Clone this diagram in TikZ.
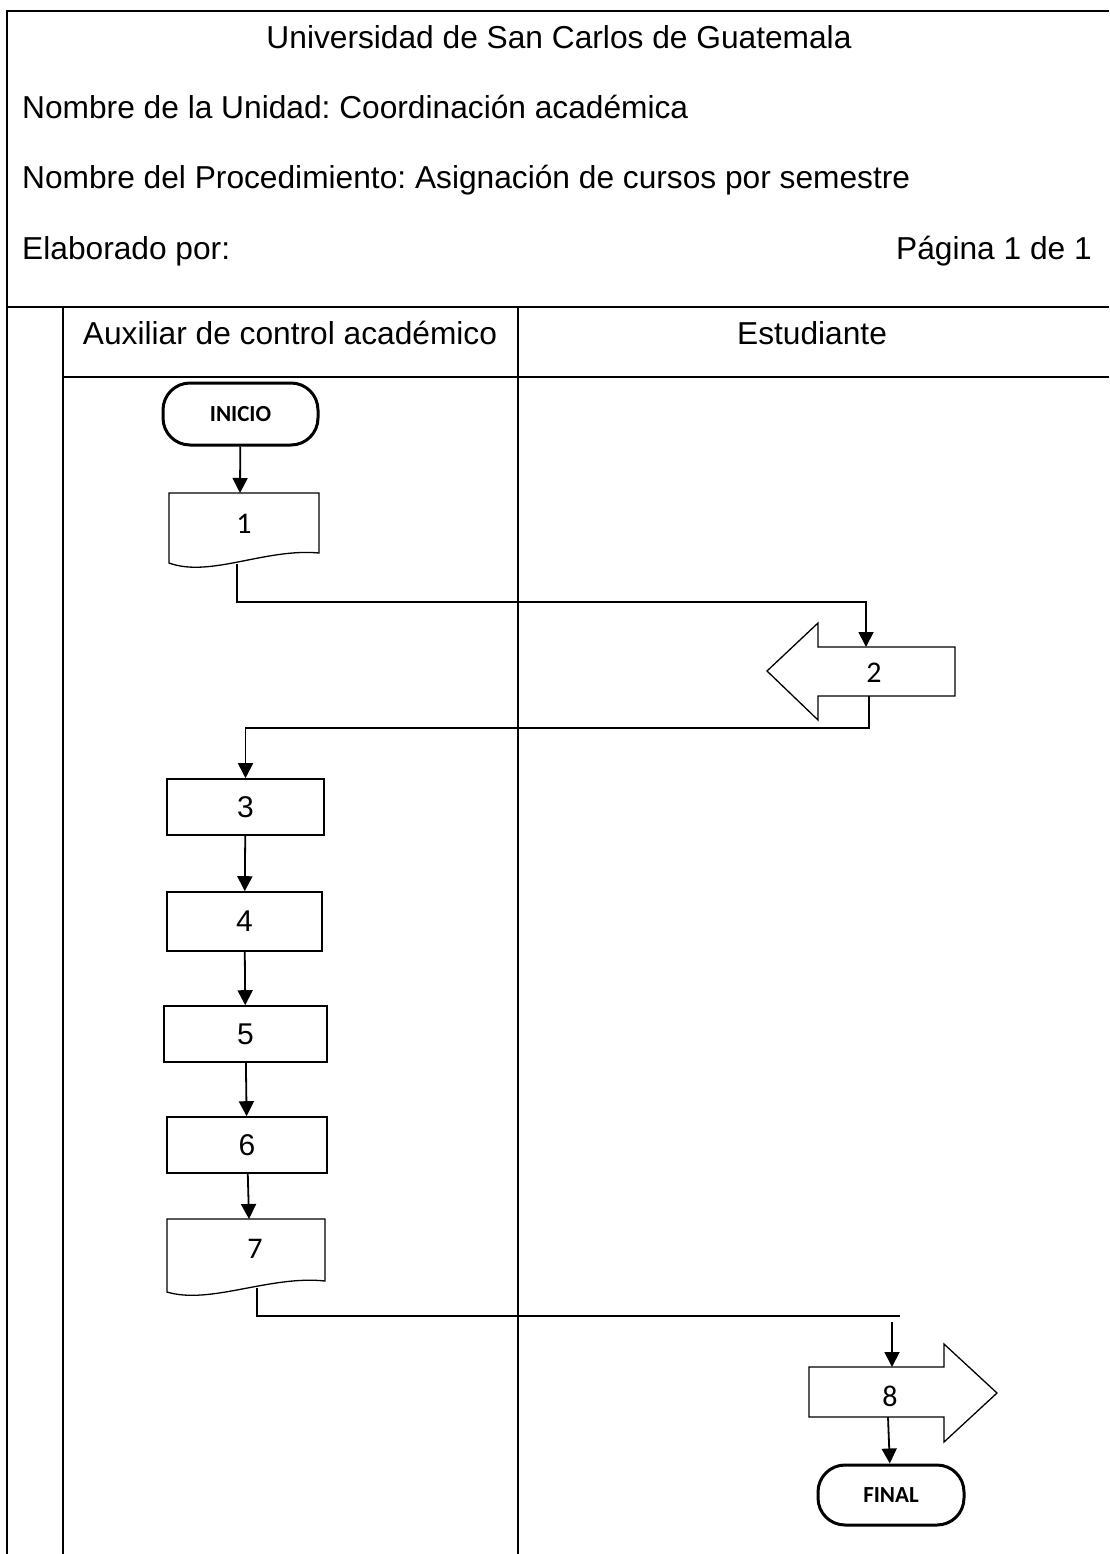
\documentclass[tikz,border=0pt]{standalone}
\usepackage{fontspec}
\setmainfont{Liberation Sans}
\newfontfamily\calib{Carlito}
\usetikzlibrary{arrows.meta}
\frenchspacing
\begin{document}
\begin{tikzpicture}[x=1pt,y=-1pt,
  frame/.style={line width=2pt},
  proc/.style={draw,line width=1.6pt,inner sep=0pt,font=\fontsize{30}{34}\selectfont},
  term/.style={draw,line width=3pt,rounded corners=27pt,inner sep=0pt,font=\calib\bfseries\fontsize{23}{27}\selectfont},
  shp/.style={draw,line width=1.3pt},
  num/.style={inner sep=0pt,font=\calib\fontsize{30}{34}\selectfont},
  flow/.style={line width=1.8pt,-{Triangle[length=15pt,width=15pt]}},
  link/.style={line width=1.6pt},
  hdr/.style={font=\fontsize{31.7}{36}\selectfont,anchor=base,inner sep=0pt}
]
\useasboundingbox (0,0) rectangle (1109,1554);

% page frame and swimlanes
\draw[frame] (7,1554) -- (7,11) -- (1109,11);
\draw[frame] (7,307) -- (1109,307);
\draw[frame] (63,307) -- (63,1554);
\draw[frame] (63,377) -- (1109,377);
\draw[frame] (518,307) -- (518,1554);

% header
\node[hdr] (title) at (559,49) {Universidad de San Carlos de Guatemala};
\node[hdr,anchor=base west] (unit) at (22,119) {Nombre de la Unidad: Coordinación académica};
\node[hdr,anchor=base west] (procname) at (22,189) {Nombre del Procedimiento: Asignación de cursos por semestre};
\node[hdr,anchor=base west] (author) at (22,259) {Elaborado por:};
\node[hdr,anchor=base east] (page) at (1092,259) {Página 1 de 1};
\node[hdr] (laneA) at (290,344) {Auxiliar de control académico};
\node[hdr] (laneB) at (812,344) {Estudiante};

% start
\node[term,minimum width=155pt,minimum height=62pt] (start) at (240.5,414) {INICIO};

% step 1: document
\draw[shp] (169,493) -- (319,493) -- (319,553) .. controls (265,548) and (210,578) .. (169,563) -- cycle;
\node[num] (d1) at (244,524) {1};
\coordinate (d1top) at (240,493);
\coordinate (d1out) at (237,564);

% step 2: arrow pointing left
\draw[shp] (955,647) -- (818,647) -- (818,623) -- (767,671) -- (818,720) -- (818,696) -- (955,696) -- cycle;
\node[num] (a2) at (874,673) {2};
\coordinate (a2top) at (866,647);
\coordinate (a2out) at (869,696);

% steps 3-6: processes
\node[proc,minimum width=157pt,minimum height=56pt] (b3) at (245.5,807) {3};
\node[proc,minimum width=155pt,minimum height=59pt] (b4) at (244.5,921.5) {4};
\node[proc,minimum width=163pt,minimum height=56pt] (b5) at (245.5,1034) {5};
\node[proc,minimum width=160pt,minimum height=56pt] (b6) at (247,1145) {6};

% step 7: document
\draw[shp] (167,1219) -- (325,1219) -- (325,1281) .. controls (270,1275) and (210,1305) .. (167,1292) -- cycle;
\node[num] (d7) at (255,1249) {7};
\coordinate (d7top) at (249,1219);
\coordinate (d7out) at (257,1288);

% step 8: arrow pointing right
\draw[shp] (809,1367) -- (944,1367) -- (944,1344) -- (997,1393) -- (944,1442) -- (944,1417) -- (809,1417) -- cycle;
\node[num] (a8) at (890,1396) {8};
\coordinate (a8top) at (892,1367);
\coordinate (a8out) at (888,1417);

% end
\node[term,minimum width=146pt,minimum height=60pt] (end) at (891,1495) {FINAL};

% connectors
\draw[flow] (start) -- (d1top);
\draw[flow] (d1out) -- ++(0,38) -| (a2top);
\draw[flow] (a2out) -- ++(0,32) -| (b3.north);
\draw[flow] (b3) -- (b4);
\draw[flow] (b4) -- (b5);
\draw[flow] (b5) -- (b6);
\draw[flow] (b6) -- (d7top);
\coordinate (lineend) at (900,1316);
\coordinate (a8in) at (892,1322);
\draw[link] (d7out) |- (lineend);
\draw[flow] (a8in) -- (a8top);
\draw[flow] (a8out) -- (end);
\end{tikzpicture}
\end{document}
